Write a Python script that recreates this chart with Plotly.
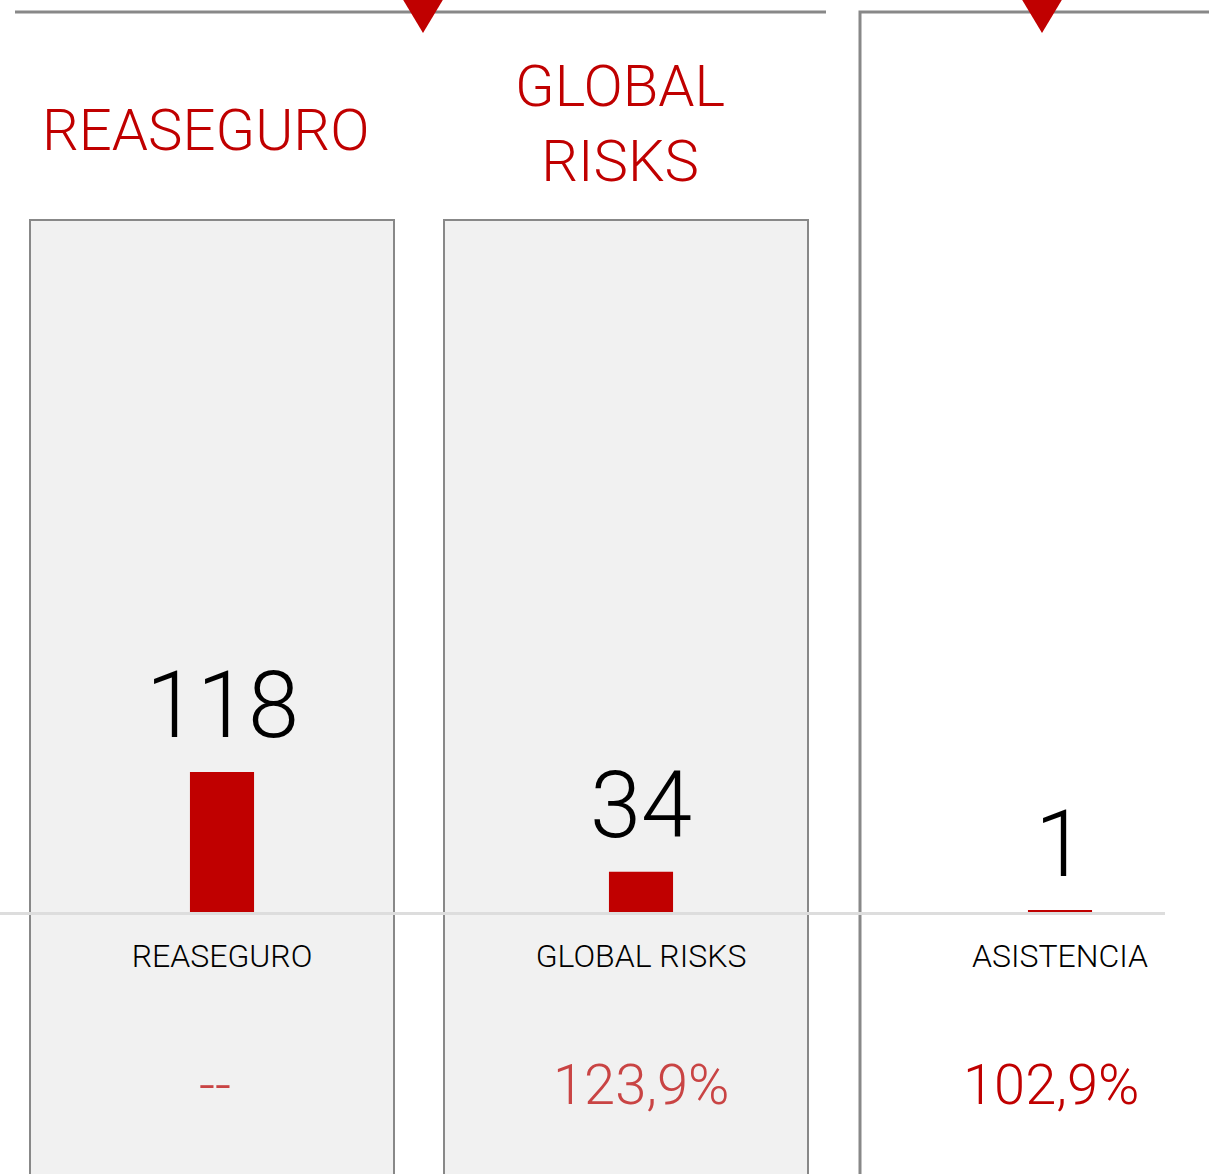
import plotly.graph_objects as go

# ---- data ----
categories = ["REASEGURO", "GLOBAL RISKS", "ASISTENCIA"]
values = [118, 34, 1]
ratio_labels = ["--", "123,9%", "102,9%"]
ratio_colors = ["#c94444", "#c94444", "#c00000"]
panel_titles = ["REASEGURO", "GLOBAL<br>RISKS"]

W, H = 1209, 1174
RED = "#c00000"
FONT = "Roboto"
WEIGHT = 300

def px(x):
    return x / W

def py(y):
    return 1 - y / H

fig = go.Figure()
fig.add_trace(go.Bar(
    x=categories, y=values, width=0.153,
    marker=dict(color=RED, line=dict(width=0)),
    hoverinfo="skip",
))

shapes = []
# grey panel boxes
for x0, x1 in [(30, 394), (444, 808)]:
    shapes.append(dict(type="rect", xref="paper", yref="paper",
                       x0=px(x0), x1=px(x1), y0=py(1190), y1=py(220),
                       fillcolor="#f1f1f1", line=dict(color="#888888", width=2),
                       layer="below"))
# top rules
shapes.append(dict(type="line", xref="paper", yref="paper",
                   x0=px(15), x1=px(826), y0=py(12), y1=py(12),
                   line=dict(color="#888888", width=3), layer="below"))
shapes.append(dict(type="path", xref="paper", yref="paper",
                   path=f"M {px(860)},{py(1190)} L {px(860)},{py(12)} L {px(1215)},{py(12)}",
                   line=dict(color="#888888", width=3), layer="below"))
# red triangles
for cx in [423, 1042]:
    shapes.append(dict(type="path", xref="paper", yref="paper",
                       path=f"M {px(cx-21)},{py(-2)} L {px(cx+21)},{py(-2)} L {px(cx)},{py(33)} Z",
                       fillcolor=RED, line=dict(width=0), layer="above"))

annotations = []
# value labels
for c, v in zip(categories, values):
    annotations.append(dict(x=c, y=v, xref="x", yref="y", text=str(v),
                            showarrow=False, yanchor="bottom", yshift=11,
                            font=dict(family=FONT, size=92, color="#000000", weight=WEIGHT)))
# ratio labels
for i, (c, t, col) in enumerate(zip(categories, ratio_labels, ratio_colors)):
    annotations.append(dict(x=c, y=py(1085), xref="x", yref="paper", text=t,
                            showarrow=False, yanchor="middle", xanchor="center",
                            xshift=(-7 if i == 0 else (-9 if i == 2 else 0)),
                            font=dict(family=FONT, size=56, color=col, weight=WEIGHT)))
# panel titles
annotations.append(dict(x=px(205), y=py(130), xref="paper", yref="paper",
                        text=panel_titles[0], showarrow=False,
                        yanchor="middle", xanchor="center",
                        font=dict(family=FONT, size=58, color=RED, weight=WEIGHT)))
annotations.append(dict(x=px(620), y=py(123), xref="paper", yref="paper",
                        text=panel_titles[1], showarrow=False,
                        yanchor="middle", xanchor="center",
                        font=dict(family=FONT, size=58, color=RED, weight=WEIGHT)))

fig.update_layout(
    width=W, height=H,
    margin=dict(l=0, r=0, t=0, b=0),
    paper_bgcolor="white", plot_bgcolor="rgba(0,0,0,0)",
    showlegend=False,
    shapes=shapes, annotations=annotations,
    xaxis=dict(type="category", domain=[0, 1165 / W],
               range=[-222 / 419, (1165 - 222) / 419],
               anchor="free", position=py(913),
               showline=True, linecolor="#dddddd", linewidth=3,
               showgrid=False, zeroline=False, ticks="",
               ticklabelstandoff=14, fixedrange=True,
               tickfont=dict(family=FONT, size=32, color="#000000", weight=WEIGHT)),
    yaxis=dict(range=[-(H - 912) / (140 / 118), 912 / (140 / 118)],
               visible=False, showgrid=False, zeroline=False, fixedrange=True),
)

fig.write_html("out.html", config={"displayModeBar": False},
               post_script="document.body.style.margin='0';document.body.style.overflow='hidden';")
